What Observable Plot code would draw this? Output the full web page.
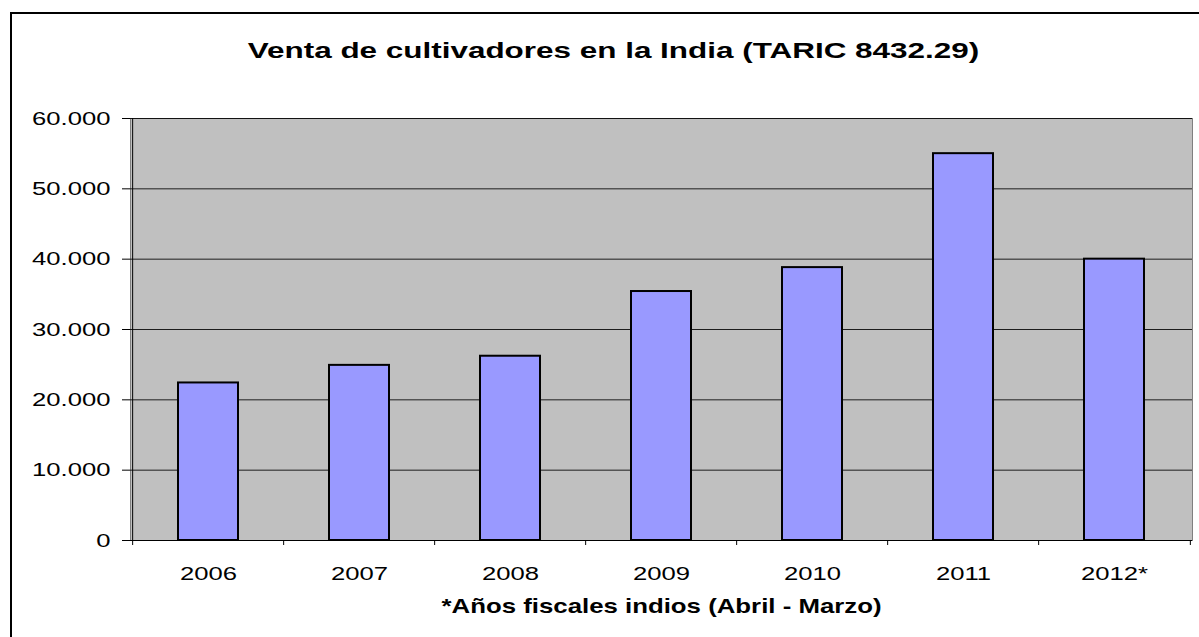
<!DOCTYPE html>
<html><head><meta charset="utf-8">
<script src="https://cdn.jsdelivr.net/npm/d3@7"></script>
<script src="https://cdn.jsdelivr.net/npm/@observablehq/plot@0.6"></script>
<style>
html,body{margin:0;padding:0;background:#fff;overflow:hidden;}
#wrap{position:relative;width:1199px;height:637px;overflow:hidden;}
#border{position:absolute;left:10px;top:12px;width:1300px;height:700px;border:2px solid #000;}
#wrap svg{position:absolute;left:0;top:0;}
</style></head><body><div id="wrap"><div id="border"></div></div>
<script>
const years = ["2006","2007","2008","2009","2010","2011","2012*"];
const sales = [22400, 24900, 26200, 35400, 38800, 55000, 40000];
const yTicks = [0, 10000, 20000, 30000, 40000, 50000, 60000];
const title = "Venta de cultivadores en la India (TARIC 8432.29)";
const xTitle = "*Años fiscales indios (Abril - Marzo)";

const data = years.map((y, i) => ({year: y, value: sales[i]}));
const W = 1199, H = 637, mL = 130, mR = 7, mT = 118, mB = 97;
const step = (W - mL - mR) / years.length;
const fmt = d => d3.format(",")(d).replace(/,/g, ".");
const font = "'Liberation Sans', Arial, sans-serif";

const chart = Plot.plot({
  width: W, height: H,
  marginLeft: mL, marginRight: mR, marginTop: mT, marginBottom: mB,
  style: {fontFamily: font, background: "transparent", color: "#000", overflow: "visible"},
  x: {domain: years, paddingInner: 0.6, paddingOuter: 0.3, label: null},
  y: {domain: [yTicks[0], yTicks[yTicks.length - 1]], label: null},
  marks: [
    Plot.frame({fill: "#c0c0c0", stroke: "#808080"}),
    Plot.gridY(yTicks, {stroke: "#000", strokeOpacity: 0.85, strokeWidth: 1}),
    Plot.barY(data, {x: "year", y: "value", fill: "#9999ff", stroke: "#000", strokeWidth: 2}),
    Plot.ruleX([years[0]], {x: d => d, y1: yTicks[0], y2: yTicks[yTicks.length - 1], dx: -step / 2, stroke: "#000"}),
    Plot.ruleY([0], {stroke: "#000"}),
    Plot.axisY(yTicks, {tickSize: 8, tickPadding: 12, tickFormat: fmt, fontSize: 19, label: null, stroke: "#000"}),
    Plot.axisX(years, {tickSize: 0, tickPadding: 26, fontSize: 19, label: null}),
    Plot.axisX(years, {tickSize: 5, tickFormat: () => "", dx: -step / 2, label: null, stroke: "#000"}),
    Plot.axisX([years[years.length - 1]], {tickSize: 5, tickFormat: () => "", dx: step / 2, label: null, stroke: "#000"}),
    Plot.text([title], {frameAnchor: "top", dy: -68, dx: -48, fontSize: 22, fontWeight: "bold", lineAnchor: "middle"}),
    Plot.text([xTitle], {frameAnchor: "bottom", dy: 66, fontSize: 20, fontWeight: "bold", lineAnchor: "middle"})
  ]
});

d3.select(chart).selectAll("text").each(function () {
  const txt = this.textContent;
  const s = txt === title ? 1.43 : txt === xTitle ? 1.29 : 1.35;
  const t = this.getAttribute("transform") || "";
  this.setAttribute("transform", t + ` scale(${s},1)`);
});

document.getElementById("wrap").appendChild(chart);
</script>
</body></html>
